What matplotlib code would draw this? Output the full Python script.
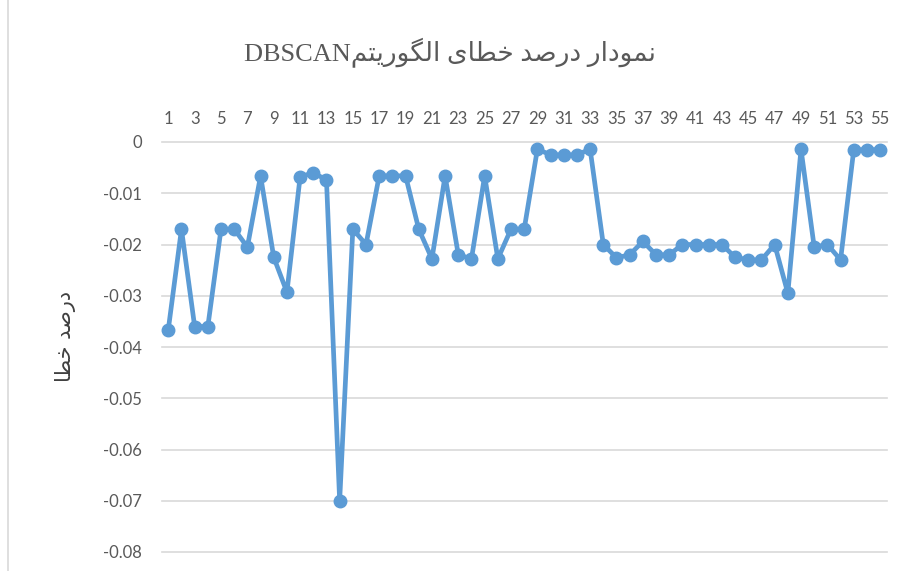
import matplotlib
matplotlib.use("Agg")
import matplotlib.pyplot as plt
from matplotlib.lines import Line2D

# ---------------- data ----------------
x_values = list(range(1, 56))
error_values = [
    -0.0366, -0.0170, -0.0360, -0.0360, -0.0170, -0.0170, -0.0205, -0.0066, -0.0225, -0.0293,
    -0.0068, -0.0060, -0.0074, -0.0700, -0.0170, -0.0200, -0.0066, -0.0066, -0.0066, -0.0170,
    -0.0228, -0.0066, -0.0220, -0.0228, -0.0066, -0.0228, -0.0170, -0.0170, -0.0014, -0.0025,
    -0.0025, -0.0025, -0.0014, -0.0200, -0.0226, -0.0220, -0.0194, -0.0220, -0.0220, -0.0200,
    -0.0200, -0.0200, -0.0200, -0.0225, -0.0230, -0.0230, -0.0200, -0.0295, -0.0014, -0.0205,
    -0.0200, -0.0230, -0.0015, -0.0015, -0.0015,
]
x_tick_labels = [str(i) for i in range(1, 56, 2)]
y_ticks = [0, -0.01, -0.02, -0.03, -0.04, -0.05, -0.06, -0.07, -0.08]
y_tick_labels = ["0", "-0.01", "-0.02", "-0.03", "-0.04", "-0.05", "-0.06", "-0.07", "-0.08"]
title_fa = "نمودار درصد خطای الگوریتم"
title_en = "DBSCAN"
ylabel_fa = "درصد خطا"

# ------------- minimal Persian shaping (presentation forms) -------------
FORMS = {
    "ا": ("\uFE8D", "\uFE8E", None, None),
    "د": ("\uFEA9", "\uFEAA", None, None),
    "ر": ("\uFEAD", "\uFEAE", None, None),
    "و": ("\uFEED", "\uFEEE", None, None),
    "ن": ("\uFEE5", "\uFEE6", "\uFEE7", "\uFEE8"),
    "م": ("\uFEE1", "\uFEE2", "\uFEE3", "\uFEE4"),
    "ص": ("\uFEB9", "\uFEBA", "\uFEBB", "\uFEBC"),
    "خ": ("\uFEA5", "\uFEA6", "\uFEA7", "\uFEA8"),
    "ط": ("\uFEC1", "\uFEC2", "\uFEC3", "\uFEC4"),
    "ی": ("\uFBFC", "\uFBFD", "\uFBFE", "\uFBFF"),
    "ل": ("\uFEDD", "\uFEDE", "\uFEDF", "\uFEE0"),
    "گ": ("\uFB92", "\uFB93", "\uFB94", "\uFB95"),
    "ت": ("\uFE95", "\uFE96", "\uFE97", "\uFE98"),
}


def shape(text):
    out = []
    n = len(text)
    for i, ch in enumerate(text):
        if ch not in FORMS:
            out.append(ch)
            continue
        prev = text[i - 1] if i > 0 else None
        nxt = text[i + 1] if i < n - 1 else None
        joins_prev = prev in FORMS and FORMS[prev][2] is not None
        joins_next = nxt in FORMS and FORMS[ch][2] is not None
        iso, fin, ini, med = FORMS[ch]
        if joins_prev and joins_next:
            out.append(med)
        elif joins_prev:
            out.append(fin)
        elif joins_next:
            out.append(ini)
        else:
            out.append(iso)
    return "".join(out)[::-1]


title_visual = title_en + shape(title_fa)
ylabel_visual = shape(ylabel_fa)

# ---------------- figure ----------------
fig = plt.figure(figsize=(9.01, 5.71), dpi=100)
ax = fig.add_axes([161.7 / 901, 1 - 552 / 571, 725 / 901, 410 / 571])

line_color = "#5B9BD5"
ax.plot(x_values, error_values, color=line_color, linewidth=3.4,
        marker="o", markersize=9, markerfacecolor=line_color,
        markeredgecolor=line_color, solid_joinstyle="round", zorder=3,
        clip_on=False)

ax.set_xlim(0.5, 55.5)
ax.set_ylim(-0.08, 0)
ax.set_yticks(y_ticks)
ax.set_yticklabels(y_tick_labels)
ax.set_xticks(list(range(1, 56, 2)))
ax.set_xticklabels(x_tick_labels)

ax.xaxis.tick_top()
ax.tick_params(axis="x", length=0, pad=11, labelsize=12, labelcolor="#595959")
ax.tick_params(axis="y", length=0, pad=14, labelsize=12, labelcolor="#595959")
for lbl in ax.get_xticklabels() + ax.get_yticklabels():
    lbl.set_fontfamily(["Lato", "DejaVu Sans"])

ax.grid(axis="y", color="#D9D9D9", linewidth=1.2, zorder=0)
ax.grid(axis="x", visible=False)
for gl in ax.get_ygridlines():
    gl.set_clip_on(False)
for s in ax.spines.values():
    s.set_visible(False)

fig.text(450 / 901, 1 - 52 / 571, title_visual, ha="center", va="center",
         fontsize=19, color="#595959", family=["Liberation Serif", "DejaVu Sans"])
fig.text(65 / 901, 1 - 337 / 571, ylabel_visual, ha="center", va="center",
         rotation=90, fontsize=15, color="#404040", family=["DejaVu Sans"])

fig.add_artist(Line2D([8 / 901, 8 / 901], [0, 1], transform=fig.transFigure,
                      color="#D9D9D9", linewidth=1.2))

fig.savefig("out.png", dpi=100)
